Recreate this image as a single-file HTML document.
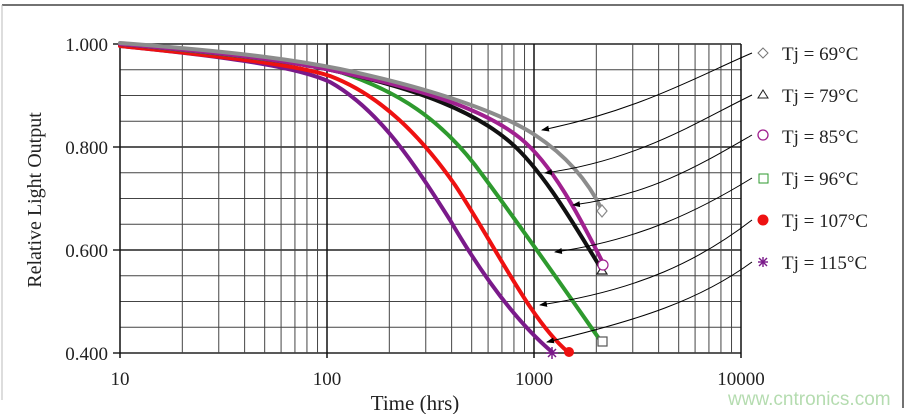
<!DOCTYPE html>
<html><head><style>
body{margin:0;background:#fff;}
svg{display:block;font-family:"Liberation Serif",serif;}
</style></head><body>
<svg width="910" height="414" viewBox="0 0 910 414">
<rect x="0" y="0" width="910" height="414" fill="#fff"/>
<path d="M2 5 H903 V408" fill="none" stroke="#444" stroke-width="1.5"/>
<line x1="2" y1="5" x2="2" y2="400" stroke="#bbb"/>
<g stroke="#444" stroke-width="1">
<line x1="120" x2="741" y1="69.7" y2="69.7"/><line x1="120" x2="741" y1="95.5" y2="95.5"/><line x1="120" x2="741" y1="121.2" y2="121.2"/>
<line x1="120" x2="741" y1="172.7" y2="172.7"/><line x1="120" x2="741" y1="198.5" y2="198.5"/><line x1="120" x2="741" y1="224.2" y2="224.2"/>
<line x1="120" x2="741" y1="275.7" y2="275.7"/><line x1="120" x2="741" y1="301.5" y2="301.5"/><line x1="120" x2="741" y1="327.2" y2="327.2"/>
</g>
<g stroke="#222" stroke-width="1.5">
<line x1="113" x2="741" y1="44" y2="44"/><line x1="113" x2="741" y1="147" y2="147"/><line x1="113" x2="741" y1="250" y2="250"/><line x1="113" x2="741" y1="353" y2="353"/>
</g>
<g id="vg" stroke="#444" stroke-width="1"></g>
<g stroke="#111" stroke-width="1.5">
<line x1="120" x2="120" y1="44" y2="358"/><line x1="327" x2="327" y1="44" y2="358"/><line x1="534" x2="534" y1="44" y2="358"/><line x1="741" x2="741" y1="44" y2="358"/>
</g>
<g font-size="19" fill="#222" text-anchor="end">
<text x="108" y="51">1.000</text><text x="108" y="154">0.800</text><text x="108" y="257">0.600</text><text x="108" y="360">0.400</text>
</g>
<g font-size="19" fill="#222" text-anchor="middle">
<text x="120" y="385">10</text><text x="327" y="385">100</text><text x="534" y="385">1000</text><text x="741" y="385">10000</text>
<text x="415" y="410" font-size="21">Time (hrs)</text>
</g>
<text transform="translate(41,200) rotate(-90)" font-size="20" fill="#222" text-anchor="middle">Relative Light Output</text>
<g fill="none" stroke-width="4" stroke-linejoin="round" stroke-linecap="round">
<path stroke="#7a1a8a" d="M120,46 C240,58 300,68 330,82 C380,110 415,165 450,220 C485,280 520,325 552,352"/>
<path stroke="#ee1111" d="M120,46 C240,58 300,66 330,76 C380,95 420,135 455,185 C495,245 530,320 568,352"/>
<path stroke="#2e9a2e" d="M120,44 C250,56 310,64 340,72 C400,92 440,120 475,165 C520,225 565,290 600,340"/>
<path stroke="#111" d="M120,44 C250,55 300,63 340,72 C420,90 475,112 510,142 S580,235 602,270"/>
<path stroke="#a0208f" d="M120,44 C250,55 300,63 340,72 C425,90 485,110 520,138 S585,228 603,263"/>
<path stroke="#8c8c8c" d="M120,43 C250,53 300,61 340,69 C430,88 500,112 535,135 S590,185 602,210"/>
</g>
<g fill="none" stroke-width="1.2">
<path d="M602,205 l5,6 l-5,6 l-5,-6z" stroke="#888" fill="#fff"/>
<path d="M602,266 l5,8 h-10z" stroke="#222" fill="#fff"/>
<circle cx="603" cy="265" r="5" stroke="#a0208f" fill="#fff"/>
<rect x="598" y="337" width="9" height="9" stroke="#555" fill="#fff"/>
<circle cx="569" cy="352" r="5" fill="#ee1111" stroke="none"/>
<g stroke="#7a1a8a" stroke-width="1.5"><line x1="546" y1="353" x2="558" y2="353"/><line x1="552" y1="347" x2="552" y2="359"/><line x1="548" y1="349" x2="556" y2="357"/><line x1="556" y1="349" x2="548" y2="357"/></g>
</g>
<defs><marker id="ar" markerWidth="8" markerHeight="6" refX="7" refY="3" orient="auto"><path d="M0,0 L8,3 L0,6z" fill="#000"/></marker></defs>
<g fill="none" stroke="#000" stroke-width="1" marker-end="url(#ar)">
<path d="M752,53 C700,75 640,110 542,130"/>
<path d="M752,95 C700,120 640,160 545,173"/>
<path d="M752,135 C700,165 650,195 573,205"/>
<path d="M752,178 C700,210 640,240 555,252"/>
<path d="M752,220 C700,260 640,290 540,305"/>
<path d="M752,262 C700,300 640,320 547,342"/>
</g>
<g font-size="19" fill="#222">
<path d="M763,48 l5,5 l-5,5 l-5,-5z" fill="none" stroke="#777"/>
<text x="782" y="60">Tj = 69°C</text>
<path d="M763,90 l5,8 h-10z" fill="none" stroke="#222"/>
<text x="782" y="102">Tj = 79°C</text>
<circle cx="763" cy="135" r="5" fill="none" stroke="#a0208f" stroke-width="1.3"/>
<text x="782" y="143">Tj = 85°C</text>
<rect x="759" y="174" width="9" height="9" fill="none" stroke="#2e9a2e"/>
<text x="782" y="185">Tj = 96°C</text>
<circle cx="763" cy="220" r="5.5" fill="#ee1111"/>
<text x="782" y="227">Tj = 107°C</text>
<g stroke="#7a1a8a" stroke-width="1.4"><line x1="758" y1="262" x2="768" y2="262"/><line x1="763" y1="257" x2="763" y2="267"/><line x1="759" y1="258" x2="767" y2="266"/><line x1="767" y1="258" x2="759" y2="266"/></g>
<text x="782" y="269">Tj = 115°C</text>
</g>
<text x="728" y="405" font-size="19" font-family="Liberation Sans,sans-serif" fill="#b5dcb0">www.cntronics.com</text>
</svg>
<script>
var g=document.getElementById('vg'),s='';
for(var d=0;d<3;d++)for(var k=2;k<10;k++){var x=120+207*(d+Math.log10(k));s+='<line x1="'+x+'" x2="'+x+'" y1="44" y2="353"/>';}
g.innerHTML=s;
</script>
</body></html>
